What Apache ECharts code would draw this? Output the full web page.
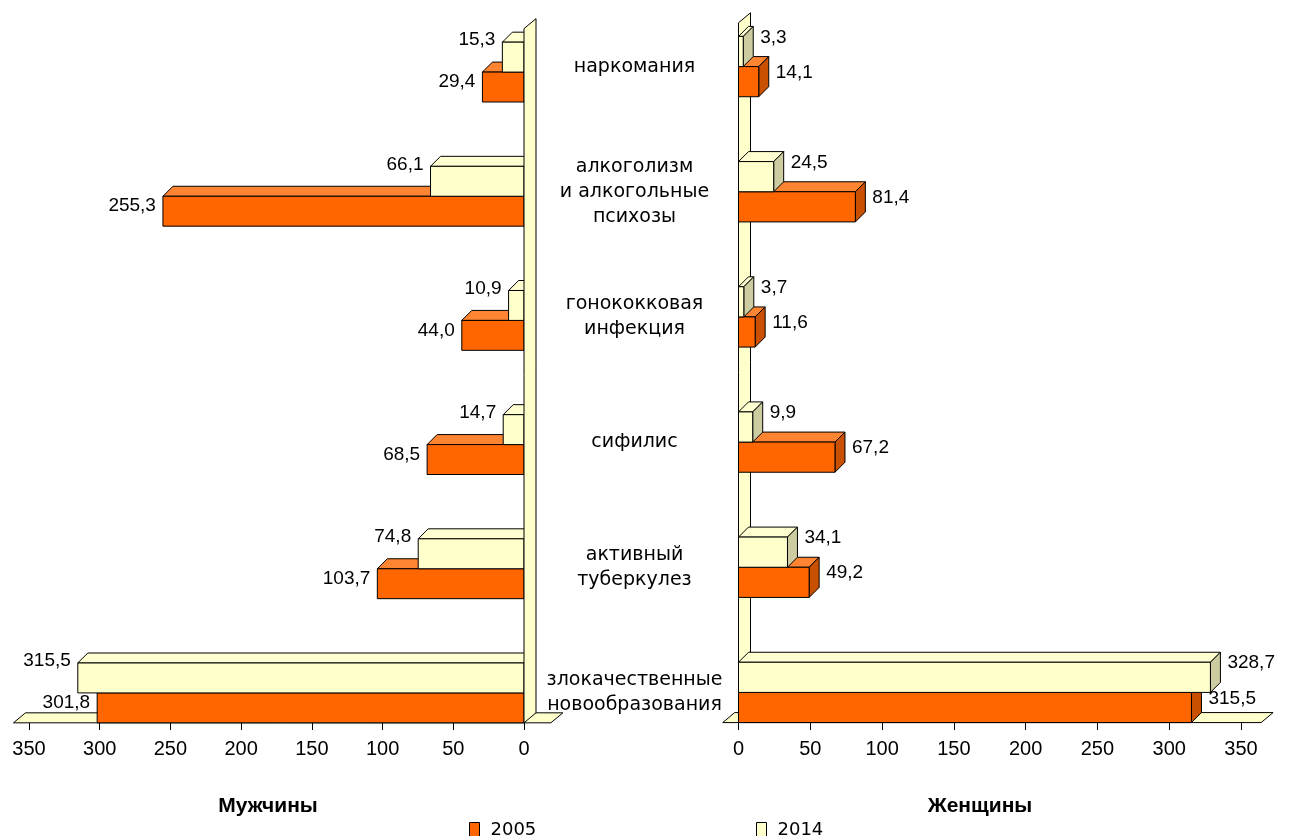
<!DOCTYPE html>
<html>
<head>
<meta charset="utf-8">
<script src="https://cdn.jsdelivr.net/npm/echarts@6/dist/echarts.min.js"></script>
<style>html,body{margin:0;padding:0;background:#fff}#c{width:1290px;height:836px}</style>
</head>
<body>
<div id="c"></div>
<script>
// ---------- data ----------
const categories = [
  'наркомания',
  'алкоголизм\nи алкогольные\nпсихозы',
  'гонококковая\nинфекция',
  'сифилис',
  'активный\nтуберкулез',
  'злокачественные\nновообразования'
];
const years = ['2005', '2014'];
const men2005   = [29.4, 255.3, 44.0, 68.5, 103.7, 301.8];
const men2014   = [15.3, 66.1, 10.9, 14.7, 74.8, 315.5];
const women2005 = [14.1, 81.4, 11.6, 67.2, 49.2, 315.5];
const women2014 = [3.3, 24.5, 3.7, 9.9, 34.1, 328.7];
const valueTicks = [0, 50, 100, 150, 200, 250, 300, 350];
const panelTitles = ['Мужчины', 'Женщины'];

// ---------- style ----------
const DEPTH = [10, -10];
const WALL_DEPTH = [12, -10];
const BAR_FRAC = 0.241;
const FLOOR_L = [-19, 361];
const FLOOR_R = [-11, 364];
const COL = {
  '2005': { front: '#FF6600', top: '#FF8533', side: '#C85000' },
  '2014': { front: '#FFFFCC', top: '#FFFFD2', side: '#CCCCA0' }
};
const STROKE = '#000000';
const PALE = '#FFFFCC';
const NUM_FONT = '19px "Liberation Sans", Arial, sans-serif';

function fmt(v) { return v.toFixed(1).replace('.', ','); }

function makeBar(side, year) {
  const col = COL[year];
  return function (params, api) {
    const v = api.value(0), c = api.value(1);
    const pz = api.coord([0, c]);
    const pv = api.coord([v, c]);
    const band = api.size([0, 1])[1];
    const h = band * BAR_FRAC;
    const top = year === '2014' ? pz[1] - h : pz[1];
    const bot = top + h;
    const xl = Math.min(pz[0], pv[0]), xr = Math.max(pz[0], pv[0]);
    const dx = DEPTH[0], dy = DEPTH[1];
    const ls = { stroke: STROKE, lineWidth: 1 };
    const children = [];
    children.push({ type: 'polygon', shape: { points: [[xl, top], [xl + dx, top + dy], [xr + dx, top + dy], [xr, top]] },
      style: Object.assign({ fill: col.top }, ls) });
    if (side === 'R') {
      children.push({ type: 'polygon', shape: { points: [[xr, top], [xr + dx, top + dy], [xr + dx, bot + dy], [xr, bot]] },
        style: Object.assign({ fill: col.side }, ls) });
    }
    children.push({ type: 'rect', shape: { x: xl, y: top, width: xr - xl, height: h },
      style: Object.assign({ fill: col.front }, ls) });
    let lx, ly, align;
    if (side === 'L') {
      lx = xl - 7; align = 'right';
      ly = year === '2014' ? top - 2 : top + 10;
    } else {
      lx = xr + 17; align = 'left';
      ly = year === '2014' ? top + 1 : top + 6;
    }
    children.push({ type: 'text', style: { text: fmt(v), x: lx, y: ly, align: align, verticalAlign: 'middle',
      font: NUM_FONT, fill: '#000' } });
    return { type: 'group', children: children };
  };
}

function floorY(api) {
  const last = categories.length - 1;
  const band = api.size([0, 1])[1];
  return api.coord([0, last])[1] + band * BAR_FRAC;
}

function makeFloor(side) {
  return function (params, api) {
    const last = categories.length - 1;
    const ext = side === 'L' ? FLOOR_L : FLOOR_R;
    const yF = floorY(api);
    const xa = api.coord([ext[0], last])[0], xb = api.coord([ext[1], last])[0];
    const x1 = Math.min(xa, xb), x2 = Math.max(xa, xb);
    const dx = WALL_DEPTH[0], dy = WALL_DEPTH[1];
    return { type: 'polygon', shape: { points: [[x1, yF], [x1 + dx, yF + dy], [x2 + dx, yF + dy], [x2, yF]] },
      style: { fill: PALE, stroke: STROKE, lineWidth: 1 } };
  };
}

function makeWall() {
  return function (params, api) {
    const band = api.size([0, 1])[1];
    const p = api.coord([0, 0]);
    const x0 = p[0];
    const yT = p[1] - band * 0.35;
    const yF = floorY(api);
    const dx = WALL_DEPTH[0], dy = WALL_DEPTH[1];
    return { type: 'polygon', shape: { points: [[x0, yT], [x0 + dx, yT + dy], [x0 + dx, yF + dy], [x0, yF]] },
      style: { fill: PALE, stroke: STROKE, lineWidth: 1 } };
  };
}

function xAxisCfg(gridIndex, inverse) {
  return {
    type: 'value', gridIndex: gridIndex, inverse: inverse,
    min: valueTicks[0], max: valueTicks[valueTicks.length - 1], interval: valueTicks[1] - valueTicks[0],
    offset: -32,
    axisLine: { show: false },
    axisTick: { show: true, length: 7, lineStyle: { color: '#000', width: 1 } },
    splitLine: { show: false },
    axisLabel: { color: '#000', fontSize: 20, fontFamily: '"Liberation Sans", Arial, sans-serif', margin: 16 }
  };
}

const pairs = (arr) => arr.map((v, i) => [v, i]);

function barSeries(side, year, arr, idx) {
  return {
    type: 'custom', name: year, xAxisIndex: idx, yAxisIndex: idx,
    renderItem: makeBar(side, year), data: pairs(arr), encode: { x: 0, y: 1 },
    clip: false, silent: true, animation: false,
    itemStyle: { color: COL[year].front, borderColor: STROKE, borderWidth: 1 }
  };
}

function decoSeries(fn, idx) {
  return {
    type: 'custom', name: 'deco' + idx, xAxisIndex: idx, yAxisIndex: idx,
    renderItem: fn, data: [[0, 0]], encode: { x: 0, y: 1 },
    clip: false, silent: true, animation: false
  };
}

const chart = echarts.init(document.getElementById('c'), null, { renderer: 'canvas' });
chart.setOption({
  backgroundColor: '#ffffff',
  animation: false,
  grid: [
    { left: 29, right: 766, top: 10, bottom: 81, containLabel: false },
    { left: 738.5, right: 49, top: 4, bottom: 81, containLabel: false }
  ],
  xAxis: [xAxisCfg(0, true), xAxisCfg(1, false)],
  yAxis: [
    { type: 'category', gridIndex: 0, data: categories, inverse: true,
      axisLine: { show: false }, axisTick: { show: false }, axisLabel: { show: false }, splitLine: { show: false } },
    { type: 'category', gridIndex: 1, data: categories, inverse: true,
      axisLine: { show: false }, axisTick: { show: false }, splitLine: { show: false },
      axisLabel: { show: true, align: 'center', margin: 104, color: '#000', fontSize: 19, lineHeight: 25,
        fontFamily: '"DejaVu Sans", sans-serif' } }
  ],
  legend: [
    { data: [years[0]], left: 464, top: 816, icon: 'rect', itemWidth: 10, itemHeight: 15,
      itemStyle: { borderColor: STROKE, borderWidth: 1 }, selectedMode: false,
      textStyle: { color: '#000', fontSize: 18, fontFamily: '"DejaVu Sans", sans-serif', padding: [0, 0, 0, 6] } },
    { data: [years[1]], left: 751, top: 816, icon: 'rect', itemWidth: 10, itemHeight: 15,
      itemStyle: { borderColor: STROKE, borderWidth: 1 }, selectedMode: false,
      textStyle: { color: '#000', fontSize: 18, fontFamily: '"DejaVu Sans", sans-serif', padding: [0, 0, 0, 6] } }
  ],
  graphic: [
    { type: 'text', x: 268, y: 806, style: { text: panelTitles[0], align: 'center', verticalAlign: 'middle',
      font: 'bold 21px "Liberation Sans", Arial, sans-serif', fill: '#000' } },
    { type: 'text', x: 980, y: 806, style: { text: panelTitles[1], align: 'center', verticalAlign: 'middle',
      font: 'bold 21px "Liberation Sans", Arial, sans-serif', fill: '#000' } }
  ],
  series: [
    decoSeries(makeFloor('L'), 0),
    barSeries('L', '2005', men2005, 0),
    barSeries('L', '2014', men2014, 0),
    decoSeries(makeWall(), 0),
    decoSeries(makeFloor('R'), 1),
    decoSeries(makeWall(), 1),
    barSeries('R', '2005', women2005, 1),
    barSeries('R', '2014', women2014, 1)
  ]
});
</script>
</body>
</html>
